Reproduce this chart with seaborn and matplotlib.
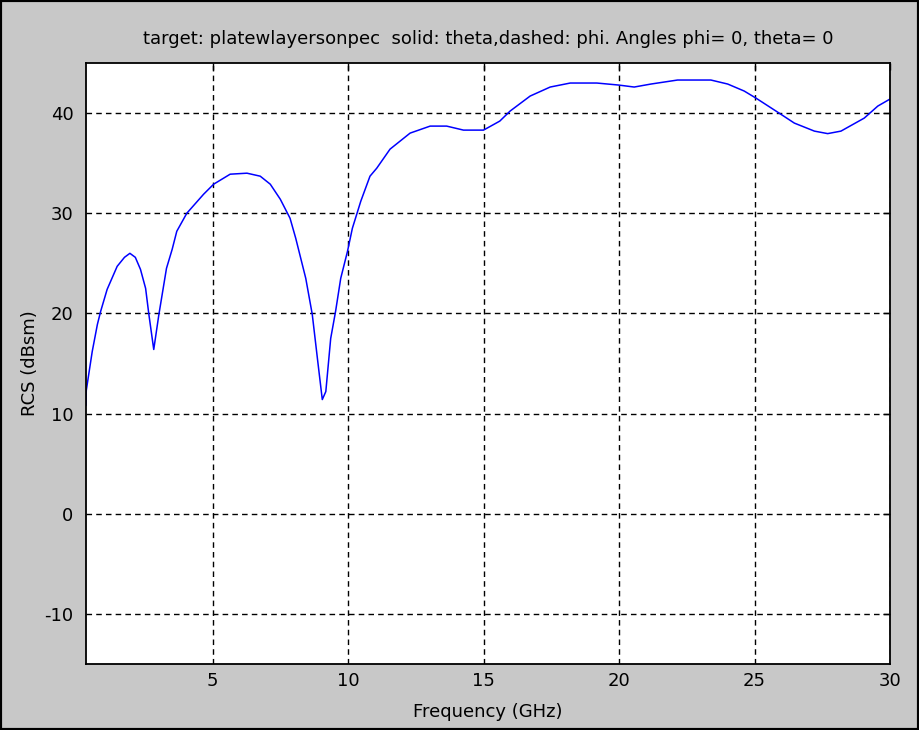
import matplotlib
matplotlib.use("Agg")
import numpy as np
import pandas as pd
import seaborn as sns
from matplotlib import pyplot as plt
from matplotlib.patches import Rectangle

# values
freq_ghz = [0.33, 0.34, 0.43, 0.56, 0.75, 0.87, 1.11, 1.48, 1.75, 1.95, 2.15, 2.34, 2.53, 2.65,
            2.83, 3.02, 3.30, 3.51, 3.68, 4.05, 4.67, 5.04, 5.65, 6.27, 6.76, 7.13,
            7.50, 7.86, 8.07, 8.44, 8.68, 8.87, 9.05, 9.18, 9.36, 9.54, 9.73, 9.98,
            10.16, 10.47, 10.81, 11.06, 11.55, 12.29, 13.03, 13.64, 14.26, 15.0,
            15.6, 15.98, 16.72, 17.46, 18.2, 19.18, 19.98, 20.56, 21.18, 22.16,
            23.39, 24.01, 24.62, 25.05, 25.85, 26.47, 27.21, 27.70, 28.19, 29.05,
            29.55, 30.0]
rcs_theta = [10.8, 12.3, 13.9, 16.2, 18.9, 20.2, 22.4, 24.7, 25.6, 26.0, 25.6, 24.4, 22.5, 19.9,
             16.4, 19.9, 24.5, 26.4, 28.2, 30.0, 31.9, 32.9, 33.9, 34.0, 33.7, 32.9,
             31.4, 29.5, 27.5, 23.5, 19.9, 15.5, 11.4, 12.2, 17.5, 20.2, 23.5, 26.2,
             28.5, 31.2, 33.7, 34.5, 36.4, 38.0, 38.7, 38.7, 38.3, 38.3,
             39.2, 40.2, 41.7, 42.6, 43.0, 43.0, 42.8, 42.6, 42.9, 43.3,
             43.3, 42.9, 42.2, 41.5, 40.1, 39.0, 38.2, 37.95, 38.2, 39.5,
             40.7, 41.4]

x_ticks = [5, 10, 15, 20, 25, 30]
y_ticks = [-10, 0, 10, 20, 30, 40]
title = "target: platewlayersonpec  solid: theta,dashed: phi. Angles phi= 0, theta= 0"

sns.set_style("white")
plt.rcParams['font.family'] = ['DejaVu Sans']
plt.rcParams.update({'text.color': 'black', 'axes.labelcolor': 'black',
                     'xtick.color': 'black', 'ytick.color': 'black',
                     'axes.unicode_minus': False})

df = pd.DataFrame({'freq': freq_ghz, 'rcs': rcs_theta})

fig = plt.figure(figsize=(9.19, 7.30), dpi=100, facecolor='#c8c8c8')
ax = fig.add_axes([86 / 919, 1 - 664 / 730, (890 - 86) / 919, (664 - 63) / 730])
ax.set_facecolor('white')

sns.lineplot(data=df, x='freq', y='rcs', ax=ax, color='#0000ff', linewidth=1.1)

ax.set_xlim(0.33, 30)
ax.set_ylim(-15, 45)
ax.set_xticks(x_ticks)
ax.set_yticks(y_ticks)
ax.grid(True, color='black', linestyle=(0, (4, 3)), linewidth=1)
ax.tick_params(direction='in', length=5, width=1, labelsize=13,
               top=True, right=True)
ax.tick_params(axis='y', pad=9)
ax.tick_params(axis='x', pad=6)
for s in ax.spines.values():
    s.set_color('black')
    s.set_linewidth(1.3)

ax.set_xlabel('Frequency (GHz)', fontsize=13, labelpad=9)
ax.set_ylabel('RCS (dBsm)', fontsize=13, labelpad=4)
ax.set_title(title, fontsize=13, pad=14)

fig.patches.append(Rectangle((0, 0), 1, 1, transform=fig.transFigure, fill=False,
                             edgecolor='black', linewidth=3))

fig.savefig('out.png', dpi=100, facecolor=fig.get_facecolor())
